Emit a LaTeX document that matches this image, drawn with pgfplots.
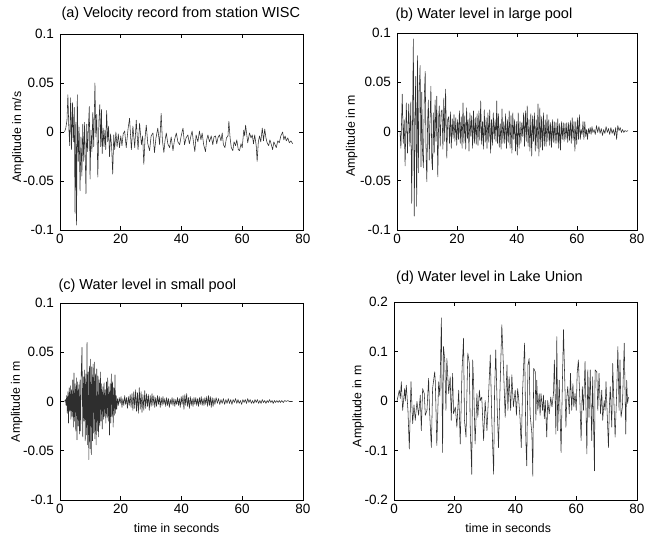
\documentclass[border=0pt]{standalone}
\usepackage{fontspec}
\setmainfont{Liberation Sans}
\usepackage{pgfplots}
\usepackage{pgfplotstable}
\pgfplotsset{compat=1.18}

\pgfplotstableread{
t v
1.5 0.000
1.9 0.004
2.3 0.012
2.6 0.038
2.9 0.005
3.2 -0.014
3.5 0.035
3.8 -0.018
4.1 0.030
4.4 -0.010
4.7 0.025
4.95 -0.083
5.2 0.010
5.45 -0.095
5.7 0.038
6.0 -0.030
6.3 0.005
6.6 -0.060
6.9 -0.005
7.2 -0.045
7.5 0.008
7.8 -0.030
8.1 0.010
8.55 -0.063
8.8 0.008
9.1 -0.020
9.35 0.005
9.65 0.026
9.9 -0.048
10.2 0.002
10.5 -0.020
10.8 0.020
11.1 -0.015
11.5 0.050
11.8 -0.005
12.1 0.018
12.45 -0.046
12.8 0.010
13.1 0.028
13.4 -0.015
13.65 0.023
13.9 -0.022
14.2 0.004
14.5 -0.015
14.8 0.002
15.05 -0.018
15.35 0.022
15.7 -0.010
16.0 0.006
16.3 -0.025
16.65 -0.002
17.0 -0.015
17.35 -0.043
17.7 -0.003
18.0 -0.018
18.4 0.000
18.8 -0.015
19.2 -0.002
19.6 -0.016
20.0 -0.004
20.4 -0.014
20.8 -0.002
21.3 0.001
21.8 -0.016
22.4 0.003
22.9 0.014
23.5 -0.018
24.0 0.006
24.6 -0.016
25.1 0.012
25.7 -0.018
26.2 0.009
26.8 -0.013
27.2 -0.004
27.6 -0.033
28.0 -0.006
28.4 0.007
28.9 -0.012
29.5 -0.019
30.0 -0.004
30.6 -0.001
31.1 -0.021
31.6 -0.006
32.2 0.004
32.8 -0.013
33.3 0.019
33.7 -0.008
34.2 -0.021
34.6 -0.008
35.0 -0.001
35.5 -0.012
36.1 -0.016
36.6 -0.005
37.2 -0.019
37.7 -0.008
38.3 -0.001
38.8 -0.010
39.4 -0.013
39.9 -0.004
40.5 0.004
41.0 -0.013
41.5 -0.006
42.1 -0.003
42.6 -0.012
43.1 -0.004
43.5 0.001
44.0 -0.012
44.4 -0.020
44.8 -0.003
45.4 -0.010
45.9 0.001
46.4 -0.008
46.8 -0.001
47.3 -0.013
47.9 -0.020
48.3 -0.008
48.7 -0.003
49.2 -0.010
49.8 -0.004
50.3 -0.013
50.7 -0.005
51.2 -0.004
51.6 -0.012
52.0 -0.006
52.5 -0.003
53.0 -0.009
53.4 -0.001
53.8 -0.013
54.3 -0.016
54.8 -0.006
55.3 -0.004
55.6 0.011
56.0 -0.006
56.4 -0.016
56.9 -0.019
57.3 -0.010
57.8 -0.014
58.2 -0.008
58.7 -0.018
59.1 -0.019
59.6 -0.012
60.0 -0.016
60.5 0.002
60.8 -0.004
61.1 0.007
61.5 -0.003
61.8 -0.011
62.4 -0.001
62.9 -0.006
63.3 -0.003
63.7 -0.012
64.1 -0.003
64.6 -0.014
64.9 -0.030
65.3 -0.010
65.7 -0.004
66.1 -0.010
66.6 0.004
67.0 -0.009
67.4 0.003
67.8 -0.006
68.2 -0.011
68.7 -0.014
69.1 -0.008
69.5 -0.012
70.0 -0.018
70.4 -0.010
70.8 -0.013
71.2 -0.016
71.7 -0.009
72.2 -0.011
72.7 -0.004
73.3 0.000
73.7 -0.008
74.1 -0.004
74.5 -0.009
75.0 -0.006
75.5 -0.011
76.0 -0.009
76.6 -0.012
}\dataa

\pgfplotstableread{
t v
1.0 0.000
1.3 -0.017
1.75 0.038
2.1 -0.012
2.4 0.012
2.7 -0.035
3.1 0.029
3.5 -0.022
3.9 0.028
4.3 -0.015
4.6 0.030
4.9 -0.073
5.2 0.020
5.45 0.094
5.75 -0.086
6.05 0.030
6.25 0.056
6.55 -0.076
6.85 0.077
7.1 -0.042
7.4 0.040
7.7 0.067
8.0 -0.036
8.25 0.040
8.5 -0.020
8.8 -0.037
9.1 0.035
9.4 0.061
9.7 -0.025
9.95 -0.051
10.2 0.010
10.45 0.032
10.75 -0.029
11.0 0.010
11.3 0.046
11.6 -0.030
11.85 -0.039
12.1 0.019
12.4 -0.022
12.7 0.032
13.0 -0.010
13.25 0.036
13.6 -0.046
13.9 0.015
14.1 0.026
14.4 -0.015
14.7 0.020
15.0 0.022
15.3 -0.018
15.6 0.034
15.9 -0.010
16.2 0.043
16.6 -0.027
16.9 0.012
17.2 0.015
17.5 -0.012
17.8 0.020
18.1 -0.017
18.4 0.013
18.7 -0.007
19.0 0.017
19.3 -0.010
19.6 0.014
19.9 -0.014
20.2 0.012
20.5 -0.008
20.8 0.021
21.1 -0.012
21.4 0.015
21.7 -0.017
22.0 0.029
22.3 -0.012
22.6 0.016
22.9 -0.018
23.2 0.024
23.5 -0.007
23.7 0.012
24.0 -0.020
24.3 0.019
24.6 -0.005
24.9 0.016
25.2 -0.017
25.5 0.021
25.8 -0.012
26.1 0.014
26.4 -0.013
26.7 0.018
27.0 -0.014
27.3 0.021
27.6 -0.009
27.9 0.031
28.2 -0.013
28.5 0.010
28.8 -0.018
29.1 0.022
29.4 -0.011
29.7 0.014
30.0 -0.017
30.3 0.019
30.6 -0.011
30.9 0.022
31.2 -0.022
31.5 0.012
31.8 -0.014
32.1 0.019
32.4 -0.008
32.7 0.012
33.0 -0.010
33.25 0.031
33.5 -0.012
33.8 0.018
34.1 -0.016
34.4 0.008
34.7 -0.018
35.0 0.023
35.3 -0.012
35.6 0.010
35.9 -0.012
36.2 0.018
36.5 -0.017
36.8 0.012
37.1 -0.011
37.4 0.021
37.7 -0.017
38.0 0.016
38.3 -0.022
38.6 0.019
38.9 -0.008
39.2 0.012
39.5 -0.020
39.8 0.010
40.1 -0.024
40.4 0.019
40.7 -0.017
41.0 0.010
41.3 -0.012
41.6 0.009
41.9 -0.005
42.2 0.019
42.5 -0.015
42.8 0.021
43.1 -0.010
43.4 0.026
43.7 -0.015
44.0 0.012
44.3 -0.020
44.6 0.018
44.9 -0.025
45.2 0.016
45.5 -0.010
45.8 0.019
46.1 -0.020
46.4 0.012
46.7 -0.017
47.0 0.028
47.3 -0.025
47.6 0.024
47.9 -0.016
48.2 0.015
48.5 -0.019
48.8 0.019
49.1 -0.015
49.4 0.012
49.7 -0.015
50.0 0.017
50.3 -0.010
50.6 0.012
50.9 -0.014
51.2 0.009
51.5 -0.016
51.8 0.012
52.1 -0.011
52.4 0.010
52.7 -0.012
53.0 0.009
53.3 -0.012
53.6 0.013
53.9 -0.017
54.2 0.008
54.5 -0.019
54.8 0.010
55.1 -0.008
55.4 0.009
55.7 -0.010
56.0 0.008
56.3 -0.008
56.6 0.009
56.9 -0.011
57.2 0.009
57.5 -0.009
57.8 0.011
58.1 -0.012
58.4 0.014
58.7 -0.009
59.0 0.010
59.3 -0.020
59.6 0.010
59.9 -0.013
60.2 0.014
60.5 -0.008
60.8 0.017
61.1 -0.008
61.4 0.002
61.7 -0.003
62.0 0.010
62.3 -0.008
62.6 0.010
62.9 -0.005
63.2 0.002
63.5 -0.008
63.8 0.003
64.1 -0.002
64.4 0.004
64.7 -0.003
65.0 0.005
65.3 -0.001
65.7 0.002
66.1 -0.003
66.5 0.006
66.9 -0.001
67.3 0.005
67.7 -0.002
68.1 0.003
68.5 -0.004
68.9 0.002
69.3 -0.002
69.7 0.005
70.1 -0.001
70.5 0.003
70.9 -0.003
71.3 0.004
71.7 -0.002
72.1 0.002
72.5 -0.004
72.9 0.004
73.2 -0.008
73.6 0.006
74.0 0.001
74.4 0.004
74.8 -0.001
75.2 0.002
75.6 -0.001
76.0 0.001
76.5 0.000
77.0 0.001
}\datab

\pgfplotstableread{
t v
1.5 0.000
1.8 0.002
2.0 -0.004
2.2 0.006
2.4 -0.012
2.6 0.010
2.8 -0.022
3.0 0.014
3.2 -0.010
3.4 0.016
3.6 -0.018
3.8 0.012
4.0 -0.015
4.2 0.022
4.4 -0.026
4.6 0.029
4.8 -0.020
5.0 0.018
5.2 -0.030
5.4 0.024
5.6 -0.039
5.8 0.020
6.0 -0.025
6.2 0.017
6.4 -0.033
6.6 0.022
6.8 -0.030
7.0 0.030
7.25 0.055
7.5 -0.036
7.7 0.025
7.9 -0.020
8.1 0.032
8.3 -0.040
8.5 0.028
8.7 -0.034
8.9 0.060
9.1 -0.044
9.3 0.030
9.5 -0.059
9.7 0.036
9.9 -0.048
10.1 0.043
10.3 -0.054
10.5 0.035
10.7 -0.040
10.9 0.038
11.1 -0.032
11.3 0.040
11.5 -0.038
11.7 0.028
11.9 -0.044
12.1 0.033
12.3 -0.030
12.5 0.026
12.7 -0.036
12.9 0.022
13.1 -0.025
13.3 0.030
13.5 -0.020
13.7 0.018
13.9 -0.028
14.1 0.015
14.3 -0.018
14.5 0.019
14.7 -0.015
14.9 0.012
15.1 -0.022
15.3 0.020
15.5 -0.016
15.7 0.024
15.9 -0.020
16.1 0.015
16.3 -0.034
16.5 0.018
16.7 -0.022
16.9 0.028
17.1 -0.015
17.3 0.020
17.5 -0.026
17.7 0.014
17.9 -0.014
18.1 0.027
18.3 -0.012
18.5 0.006
18.7 -0.008
18.9 0.003
19.2 -0.004
19.5 0.004
19.8 -0.002
20.1 0.005
20.4 -0.006
20.7 0.003
21.0 -0.004
21.3 0.006
21.6 -0.003
21.9 0.004
22.2 -0.007
22.5 0.005
22.8 -0.004
23.1 0.007
23.4 -0.006
23.7 0.008
24.0 -0.009
24.3 0.010
24.6 -0.007
24.9 0.012
25.2 -0.010
25.5 0.009
25.8 -0.012
26.1 0.014
26.4 -0.008
26.7 0.010
27.0 -0.011
27.3 0.007
27.6 -0.009
27.9 0.011
28.2 -0.007
28.5 0.008
28.8 -0.005
29.1 0.007
29.4 -0.009
29.7 0.006
30.0 -0.005
30.3 0.008
30.6 -0.004
30.9 0.006
31.2 -0.006
31.5 0.004
31.8 -0.005
32.1 0.006
32.4 -0.003
32.7 0.005
33.0 -0.006
33.3 0.004
33.6 -0.004
33.9 0.005
34.2 -0.003
34.5 0.003
34.8 -0.005
35.1 0.004
35.4 -0.004
35.7 0.003
36.0 -0.006
36.3 0.002
36.6 -0.003
36.9 0.004
37.2 -0.004
37.5 0.003
37.8 -0.005
38.1 0.002
38.4 -0.003
38.7 0.004
39.0 -0.004
39.3 0.003
39.6 -0.006
39.9 0.005
40.2 -0.003
40.5 0.006
40.8 -0.008
41.1 0.007
41.4 -0.004
41.7 0.008
42.0 -0.005
42.3 0.004
42.6 -0.007
42.9 0.005
43.2 -0.004
43.5 0.003
43.8 -0.005
44.1 0.004
44.4 -0.003
44.7 0.004
45.0 -0.004
45.3 0.003
45.6 -0.005
45.9 0.004
46.2 -0.003
46.5 0.005
46.8 -0.004
47.1 0.003
47.4 -0.004
47.7 0.004
48.0 -0.003
48.3 0.005
48.6 -0.005
48.9 0.006
49.2 -0.004
49.5 0.005
49.8 -0.006
50.1 0.004
50.4 -0.005
50.7 0.003
51.0 -0.003
51.4 0.004
51.8 -0.002
52.2 0.003
52.6 -0.003
53.0 0.002
53.4 -0.002
53.8 0.003
54.2 -0.003
54.6 0.002
55.0 -0.002
55.4 0.003
55.8 -0.002
56.2 0.002
56.6 -0.003
57.0 0.002
57.4 -0.001
57.8 0.003
58.2 -0.002
58.6 0.002
59.0 -0.002
59.4 0.001
59.8 -0.003
60.2 0.002
60.6 -0.001
61.0 0.002
61.4 -0.002
61.8 0.003
62.2 -0.001
62.6 0.002
63.0 -0.002
63.4 0.001
63.8 -0.002
64.2 0.002
64.6 -0.001
65.0 0.002
65.4 -0.002
65.8 0.001
66.2 -0.002
66.6 0.002
67.0 -0.001
67.4 0.001
67.8 -0.002
68.2 0.001
68.6 -0.001
69.0 0.002
69.4 -0.001
69.8 0.001
70.2 -0.002
70.6 0.001
71.0 -0.001
71.4 0.001
71.8 -0.001
72.2 0.001
72.6 -0.001
73.0 0.001
73.5 -0.001
74.0 0.001
74.5 0.000
75.0 0.001
75.5 0.000
76.0 0.000
76.6 0.000
}\datac

\pgfplotstableread{
t v
1.0 0.000
1.75 0.022
2.08 0.005
2.41 0.039
2.85 -0.019
3.5 0.025
3.73 0.000
4.05 0.032
4.6 -0.020
5.04 -0.097
5.59 0.039
6.14 -0.046
6.58 -0.008
7.0 -0.039
7.56 -0.001
8.1 -0.029
8.66 0.012
8.99 -0.060
9.42 0.025
9.97 0.015
10.3 -0.029
10.85 -0.019
11.4 0.046
11.7 -0.020
12.3 -0.094
12.7 0.025
13.4 0.059
13.6 0.039
14.1 -0.090
14.7 0.039
15.1 0.010
15.6 0.168
16.0 -0.104
16.3 0.110
16.7 0.083
17.1 -0.019
17.4 0.086
18.0 0.015
18.5 0.049
18.85 -0.039
19.3 0.056
19.6 -0.026
20.2 -0.012
20.7 -0.053
21.3 0.022
21.8 -0.087
22.4 0.063
22.9 0.127
23.2 -0.039
23.7 -0.073
24.3 0.097
24.8 0.076
25.1 -0.053
25.6 -0.148
25.9 0.083
26.2 0.039
26.7 -0.087
27.3 0.015
27.6 -0.033
28.1 0.022
28.4 0.001
28.9 0.008
29.5 -0.080
30.0 0.001
30.6 -0.060
31.1 0.008
31.7 0.093
32.2 -0.039
32.8 -0.148
33.1 0.015
33.5 0.103
34.0 -0.019
34.4 -0.094
35.0 0.046
35.5 0.154
36.1 0.059
36.6 -0.033
37.2 0.073
37.5 -0.019
37.9 0.049
38.4 -0.019
38.8 0.053
39.3 -0.012
39.9 0.022
40.3 -0.029
40.7 0.025
41.0 0.008
41.5 -0.036
41.9 -0.094
42.3 0.015
43.0 0.117
43.4 -0.080
43.7 -0.131
44.1 0.073
44.5 0.086
44.8 -0.026
45.4 -0.067
45.7 -0.152
46.0 0.066
46.5 0.059
46.7 -0.039
47.0 0.042
47.35 -0.019
47.8 0.015
48.1 -0.029
48.4 0.015
48.9 -0.019
49.2 0.012
49.5 -0.036
49.8 0.001
50.3 -0.073
50.6 0.001
51.1 -0.026
51.6 0.008
52.0 -0.012
52.5 0.015
52.8 0.083
53.3 -0.067
53.6 0.130
53.9 -0.060
54.4 0.042
55.0 -0.104
55.5 0.056
55.8 0.144
56.1 0.070
56.6 -0.053
56.9 0.008
57.2 0.029
57.7 -0.026
58.1 0.056
58.5 -0.019
58.9 0.035
59.2 -0.012
59.6 0.015
60.0 -0.019
60.3 0.056
60.7 0.083
61.2 0.001
61.6 -0.080
62.0 0.029
62.4 -0.019
62.9 0.080
63.5 -0.107
63.8 0.063
64.2 -0.033
64.6 0.063
65.1 -0.080
65.4 0.049
66.0 -0.141
66.2 0.063
66.75 0.059
67.1 -0.019
67.5 0.056
68.0 -0.026
68.4 0.022
68.7 -0.039
69.2 0.001
69.5 -0.019
69.8 0.039
70.1 -0.012
70.6 -0.094
70.9 -0.012
71.2 0.029
71.7 -0.053
72.0 0.076
72.3 0.015
72.8 -0.073
73.3 0.015
73.7 0.110
74.1 -0.019
74.4 0.083
74.75 -0.033
75.2 -0.012
75.5 0.053
75.8 0.117
76.3 -0.067
76.6 0.042
76.9 -0.005
77.2 0.008
}\datad

\pgfplotsset{
  sig/.style={
    scale only axis,
    xmin=0, xmax=80,
    xtick={0,20,40,60,80},
    xticklabels={0,20,40,60,80},
    scaled ticks=false,
    tick align=inside,
    major tick length=4pt,
    axis line style={line width=0.9pt},
    every tick/.style={black, line width=0.6pt},
    tick label style={font=\fontsize{13.5}{15}\selectfont},
    xticklabel style={anchor=base, inner sep=0pt, yshift=-14pt},
    yticklabel style={anchor=east, inner sep=0pt, xshift=-6pt},
    label style={font=\fontsize{12.3}{14}\selectfont},
    title style={font=\fontsize{14.5}{16}\selectfont, anchor=base west},
  },
  sigline/.style={black!82, line width=0.55pt, line join=round, mark=none},
  ya/.style={ymin=-0.1, ymax=0.1, ytick={-0.1,-0.05,0,0.05,0.1},
    yticklabels={-0.1,-0.05,0,0.05,0.1}},
}

\begin{document}
\begin{tikzpicture}
\path[use as bounding box] (0pt,0pt) rectangle (650pt,537pt);

\begin{axis}[sig, ya, at={(60pt,307pt)}, anchor=south west, width=243pt, height=196pt,
  title={(a) Velocity record from station WISC},
  title style={at={(axis description cs:0,1)}, xshift=-2pt, yshift=10pt},
  ylabel={Amplitude in  m/s},
  ylabel style={at={(axis description cs:-0.173,0.475)}, anchor=center}]
\addplot[sigline] table[x=t, y=v] {\dataa};
\end{axis}

\begin{axis}[sig, ya, at={(397pt,307pt)}, anchor=south west, width=240pt, height=197pt,
  title={(b) Water level in large pool},
  title style={at={(axis description cs:0,1)}, xshift=-5pt, yshift=8.3pt},
  ylabel={Amplitude in m},
  ylabel style={at={(axis description cs:-0.189,0.478)}, anchor=center}]
\addplot[sigline] table[x=t, y=v] {\datab};
\end{axis}

\begin{axis}[sig, ya, at={(60pt,37pt)}, anchor=south west, width=243pt, height=197pt,
  title={(c) Water level in small pool},
  title style={at={(axis description cs:0,1)}, xshift=-5pt, yshift=7.7pt},
  ylabel={Amplitude in m},
  ylabel style={at={(axis description cs:-0.178,0.5)}, anchor=center},
  xlabel={time in seconds},
  xlabel style={at={(axis description cs:0.48,-0.144)}, anchor=center}]
\addplot[sigline] table[x=t, y=v] {\datac};
\end{axis}

\begin{axis}[sig, at={(394pt,37pt)}, anchor=south west, width=243pt, height=198pt,
  ymin=-0.2, ymax=0.2, ytick={-0.2,-0.1,0,0.1,0.2},
  yticklabels={-0.2,-0.1,0,0.1,0.2},
  title={(d) Water level in Lake Union},
  title style={at={(axis description cs:0,1)}, xshift=-1.3pt, yshift=14.7pt},
  ylabel={Amplitude in m},
  ylabel style={at={(axis description cs:-0.147,0.473)}, anchor=center},
  xlabel={time in seconds},
  xlabel style={at={(axis description cs:0.47,-0.143)}, anchor=center}]
\addplot[sigline] table[x=t, y=v] {\datad};
\end{axis}
\end{tikzpicture}
\end{document}
